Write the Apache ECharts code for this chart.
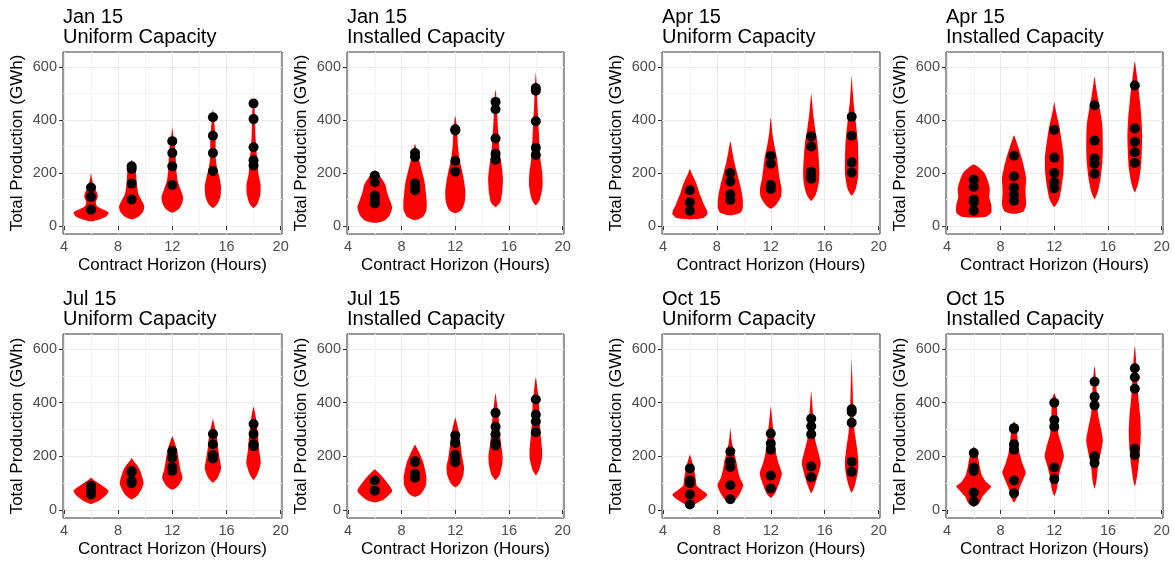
<!DOCTYPE html>
<html><head><meta charset="utf-8">
<script src="https://cdn.jsdelivr.net/npm/echarts@6/dist/echarts.min.js"></script>
<style>html,body{margin:0;padding:0;background:#fff}#c{width:1174px;height:562px}</style>
</head><body><div id="c"></div>
<script>
// ---------------- DATA ----------------
const horizons = [6, 9, 12, 15, 18];
const xTicks = [4, 8, 12, 16, 20];
const xMinorTicks = [6, 10, 14, 18];
const yTicks = [0, 200, 400, 600];
const yMinorTicks = [100, 300, 500];
const panelTitles = [
  'Jan 15\nUniform Capacity', 'Jan 15\nInstalled Capacity', 'Apr 15\nUniform Capacity', 'Apr 15\nInstalled Capacity',
  'Jul 15\nUniform Capacity', 'Jul 15\nInstalled Capacity', 'Oct 15\nUniform Capacity', 'Oct 15\nInstalled Capacity'
];
const xAxisTitle = 'Contract Horizon (Hours)';
const yAxisTitle = 'Total Production (GWh)';

// observed points (GWh) per horizon
const janUniformPoints = [[145,110,62],[225,215,160,100],[320,275,225,155],[410,340,275,207],[462,403,297,248,228]];
const janInstalledPoints = [[190,165,115,100,85],[275,260,160,148,135],[365,360,245,205],[468,440,330,272,250],[520,510,395,295,268]];
const aprUniformPoints = [[135,90,58],[200,168,120,98],[265,235,155,140],[338,300,205,190,178],[412,340,240,202]];
const aprInstalledPoints = [[175,148,100,90,58],[265,188,145,118,95],[362,258,200,165,142],[455,322,255,235,197],[530,368,318,278,238]];
const julUniformPoints = [[90,75,58],[145,140,108,100],[220,195,160,145],[283,245,205,192],[320,283,245,238]];
const julInstalledPoints = [[110,72],[182,178,135,120],[278,250,205,195,178],[362,310,282,250,240],[412,355,330,290]];
const octUniformPoints = [[155,110,100,58,20],[218,180,160,92,40],[285,248,225,128,80],[340,312,282,162,122],[375,365,325,180,142]];
const octInstalledPoints = [[212,158,145,65,32],[305,302,245,225,110,62],[400,335,310,158,115],[478,422,390,200,175],[528,495,452,228,205]];

// violin density profiles: [GWh, half-width in hours]
const janUniformViolins = [
  [[18,0],[25,0.6],[35,1.1],[50,1.3],[60,1.0],[75,0.45],[90,0.35],[110,0.5],[125,0.45],[140,0.3],[160,0.15],[185,0.05],[200,0]],
  [[25,0],[35,0.5],[55,0.85],[75,0.93],[95,0.75],[120,0.5],[150,0.4],[180,0.35],[210,0.3],[230,0.15],[250,0]],
  [[50,0],[65,0.5],[90,0.75],[110,0.8],[140,0.6],[170,0.4],[210,0.3],[260,0.25],[300,0.2],[330,0.1],[370,0]],
  [[68,0],[85,0.35],[110,0.55],[150,0.6],[190,0.45],[220,0.3],[260,0.2],[320,0.2],[380,0.12],[420,0.06],[440,0]],
  [[68,0],[85,0.3],[120,0.5],[155,0.52],[200,0.35],[240,0.3],[290,0.2],[350,0.13],[420,0.1],[460,0.05],[480,0]]
];
const janInstalledViolins = [
  [[12,0],[20,0.7],[40,1.1],[70,1.3],[100,1.1],[130,0.9],[155,0.8],[175,0.55],[195,0.3],[210,0]],
  [[22,0],[35,0.6],[60,0.85],[90,0.87],[130,0.8],[170,0.7],[200,0.55],[240,0.35],[270,0.2],[295,0.08],[310,0]],
  [[48,0],[60,0.45],[90,0.7],[130,0.75],[170,0.65],[210,0.5],[250,0.32],[300,0.2],[350,0.15],[390,0.08],[415,0]],
  [[72,0],[90,0.35],[130,0.5],[180,0.55],[230,0.45],[280,0.3],[340,0.22],[400,0.15],[460,0.1],[500,0.04],[515,0]],
  [[78,0],[100,0.3],[150,0.5],[200,0.48],[250,0.35],[300,0.28],[380,0.2],[450,0.13],[520,0.08],[560,0.03],[580,0]]
];
const aprUniformViolins = [
  [[25,0],[30,1.0],[45,1.3],[60,1.25],[80,1.05],[100,0.9],[125,0.7],[150,0.55],[175,0.35],[200,0.12],[215,0]],
  [[40,0],[50,0.75],[70,0.93],[110,0.9],[150,0.75],[200,0.5],[240,0.3],[280,0.15],[320,0]],
  [[65,0],[80,0.4],[110,0.75],[140,0.8],[180,0.65],[220,0.55],[260,0.45],[300,0.28],[350,0.12],[410,0]],
  [[95,0],[120,0.35],[160,0.55],[200,0.6],[260,0.55],[320,0.45],[370,0.28],[420,0.15],[470,0.06],[500,0]],
  [[115,0],[140,0.3],[190,0.48],[250,0.5],[320,0.45],[380,0.33],[430,0.22],[480,0.12],[530,0.05],[565,0]]
];
const aprInstalledViolins = [
  [[32,0],[35,0.9],[50,1.3],[80,1.3],[110,1.15],[140,1.2],[170,1.05],[200,0.8],[220,0.4],[232,0]],
  [[46,0],[55,0.7],[80,0.9],[130,0.85],[180,0.9],[220,0.75],[260,0.55],[300,0.3],[330,0.1],[342,0]],
  [[72,0],[100,0.35],[150,0.55],[200,0.68],[260,0.7],[320,0.55],[370,0.4],[410,0.22],[440,0.1],[467,0]],
  [[102,0],[130,0.25],[180,0.45],[240,0.58],[300,0.62],[380,0.58],[440,0.4],[490,0.22],[530,0.1],[563,0]],
  [[127,0],[160,0.25],[220,0.45],[280,0.52],[340,0.55],[400,0.5],[470,0.38],[530,0.25],[580,0.12],[620,0]]
];
const julUniformViolins = [
  [[22,0],[35,0.6],[55,1.1],[72,1.3],[85,1.0],[100,0.55],[112,0.2],[120,0]],
  [[40,0],[55,0.45],[80,0.75],[100,0.88],[120,0.8],[150,0.6],[170,0.35],[185,0.1],[195,0]],
  [[75,0],[90,0.45],[120,0.75],[150,0.6],[180,0.5],[210,0.4],[240,0.25],[265,0.08],[275,0]],
  [[102,0],[120,0.35],[155,0.6],[190,0.5],[230,0.38],[270,0.3],[300,0.18],[330,0.05],[340,0]],
  [[112,0],[135,0.3],[175,0.53],[220,0.42],[260,0.35],[300,0.28],[340,0.18],[370,0.08],[385,0]]
];
const julInstalledViolins = [
  [[28,0],[40,0.7],[60,1.15],[72,1.3],[90,1.1],[110,0.8],[130,0.45],[145,0.15],[152,0]],
  [[48,0],[60,0.45],[90,0.8],[120,0.85],[150,0.75],[180,0.6],[210,0.35],[230,0.15],[243,0]],
  [[85,0],[100,0.35],[130,0.6],[160,0.65],[200,0.5],[240,0.4],[280,0.3],[310,0.18],[335,0.06],[345,0]],
  [[112,0],[130,0.3],[170,0.5],[200,0.53],[250,0.4],[300,0.3],[350,0.22],[400,0.1],[435,0]],
  [[130,0],[150,0.25],[190,0.45],[220,0.47],[270,0.38],[320,0.3],[380,0.25],[430,0.17],[470,0.08],[495,0]]
];
const octUniformViolins = [
  [[12,0],[25,0.5],[45,1.1],[58,1.3],[72,0.95],[90,0.5],[110,0.45],[140,0.35],[170,0.22],[195,0.08],[206,0]],
  [[22,0],[35,0.35],[60,0.7],[93,0.95],[120,0.7],[150,0.55],[180,0.45],[210,0.3],[250,0.12],[280,0.05],[305,0]],
  [[45,0],[60,0.3],[90,0.55],[135,0.82],[170,0.6],[210,0.4],[250,0.3],[290,0.2],[330,0.12],[365,0.05],[387,0]],
  [[62,0],[90,0.25],[130,0.5],[175,0.7],[220,0.5],[260,0.3],[310,0.2],[360,0.13],[410,0.06],[443,0]],
  [[65,0],[95,0.25],[140,0.45],[180,0.5],[230,0.4],[280,0.25],[330,0.15],[400,0.1],[460,0.07],[520,0.03],[565,0]]
];
const octInstalledViolins = [
  [[12,0],[25,0.4],[50,0.65],[70,1.0],[87,1.3],[105,0.9],[130,0.6],[160,0.45],[200,0.3],[225,0.12],[237,0]],
  [[28,0],[45,0.2],[80,0.4],[110,0.65],[140,0.87],[170,0.65],[210,0.42],[250,0.3],[290,0.22],[315,0.15],[330,0]],
  [[52,0],[80,0.2],[130,0.35],[170,0.55],[200,0.72],[240,0.55],[280,0.32],[330,0.22],[380,0.2],[420,0.12],[435,0]],
  [[80,0],[110,0.15],[160,0.25],[210,0.45],[260,0.62],[310,0.45],[360,0.25],[420,0.18],[480,0.12],[520,0.05],[537,0]],
  [[88,0],[120,0.15],[170,0.28],[230,0.4],[290,0.45],[350,0.4],[400,0.3],[450,0.22],[510,0.15],[570,0.08],[612,0]]
];

const panelPoints = [janUniformPoints, janInstalledPoints, aprUniformPoints, aprInstalledPoints,
                     julUniformPoints, julInstalledPoints, octUniformPoints, octInstalledPoints];
const panelViolins = [janUniformViolins, janInstalledViolins, aprUniformViolins, aprInstalledViolins,
                      julUniformViolins, julInstalledViolins, octUniformViolins, octInstalledViolins];

// ---------------- LAYOUT ----------------
const FONT = '"Liberation Sans", Arial, Helvetica, sans-serif';
const colLeft = [63, 347, 662, 946];
const colWidth = [219, 217, 218, 217];
const rowTop = [52, 334];
const rowHeight = [182, 184];
const titleTop = [2, 284];
const X_MIN = 3.93, X_MAX = 20.1, Y_MIN = -30, Y_MAX = 656;

const grids = [], xAxes = [], yAxes = [], series = [], titles = [];
for (let p = 0; p < 8; p++) {
  const r = Math.floor(p / 4), c = p % 4;
  grids.push({left: colLeft[c], top: rowTop[r], width: colWidth[c], height: rowHeight[r],
              show: true, borderColor: '#333333', borderWidth: 1, backgroundColor: '#ffffff'});
  titles.push({text: panelTitles[p], left: colLeft[c] - 5, top: titleTop[r],
               textStyle: {fontFamily: FONT, fontSize: 20, fontWeight: 'normal', color: '#000', lineHeight: 20}});
  // main x axis
  xAxes.push({type: 'value', gridIndex: p, min: X_MIN, max: X_MAX,
    axisLine: {show: false},
    axisTick: {show: true, customValues: xTicks, length: 4, lineStyle: {color: '#333333'}},
    axisLabel: {customValues: xTicks, fontFamily: FONT, fontSize: 14.5, color: '#4D4D4D', margin: 5},
    splitLine: {show: true, lineStyle: {color: '#EBEBEB', width: 1}},
    name: xAxisTitle, nameLocation: 'middle', nameGap: 23,
    nameTextStyle: {fontFamily: FONT, fontSize: 17, color: '#000'}});
  // minor x grid
  xAxes.push({type: 'value', gridIndex: p, min: X_MIN, max: X_MAX,
    axisLine: {show: false}, axisLabel: {show: false},
    axisTick: {show: false, customValues: xMinorTicks},
    splitLine: {show: true, lineStyle: {color: '#F3F3F3', width: 1}}});
  yAxes.push({type: 'value', gridIndex: p, min: Y_MIN, max: Y_MAX,
    axisLine: {show: false},
    axisTick: {show: true, customValues: yTicks, length: 4, lineStyle: {color: '#333333'}},
    axisLabel: {customValues: yTicks, fontFamily: FONT, fontSize: 14.5, color: '#4D4D4D', margin: 6},
    splitLine: {show: true, lineStyle: {color: '#EBEBEB', width: 1}},
    name: yAxisTitle, nameLocation: 'middle', nameGap: 37,
    nameTextStyle: {fontFamily: FONT, fontSize: 17, color: '#000'}});
  yAxes.push({type: 'value', gridIndex: p, min: Y_MIN, max: Y_MAX,
    axisLine: {show: false}, axisLabel: {show: false},
    axisTick: {show: false, customValues: yMinorTicks},
    splitLine: {show: true, lineStyle: {color: '#F3F3F3', width: 1}}});

  const violins = panelViolins[p];
  series.push({
    type: 'custom', xAxisIndex: 2 * p, yAxisIndex: 2 * p, silent: true, z: 3,
    data: horizons.map((h, k) => [h, k]),
    renderItem: function (params, api) {
      const k = params.dataIndex;
      const h = api.value(0);
      const prof = violins[k];
      const pts = [];
      for (let i = 0; i < prof.length; i++) pts.push(api.coord([h + prof[i][1], prof[i][0]]));
      for (let i = prof.length - 2; i >= 1; i--) pts.push(api.coord([h - prof[i][1], prof[i][0]]));
      return {type: 'polygon', shape: {points: pts, smooth: 0.2}, style: {fill: '#FF0000', stroke: null}};
    }
  });
  const pts = [];
  panelPoints[p].forEach((vals, k) => vals.forEach(v => pts.push([horizons[k], v])));
  series.push({type: 'scatter', xAxisIndex: 2 * p, yAxisIndex: 2 * p, silent: true, z: 4,
    data: pts, symbolSize: 10, itemStyle: {color: '#000000', opacity: 1}});
}

const chart = echarts.init(document.getElementById('c'), null, {renderer: 'canvas'});
chart.setOption({
  animation: false, backgroundColor: '#ffffff',
  title: titles, grid: grids, xAxis: xAxes, yAxis: yAxes, series: series
});
</script></body></html>
